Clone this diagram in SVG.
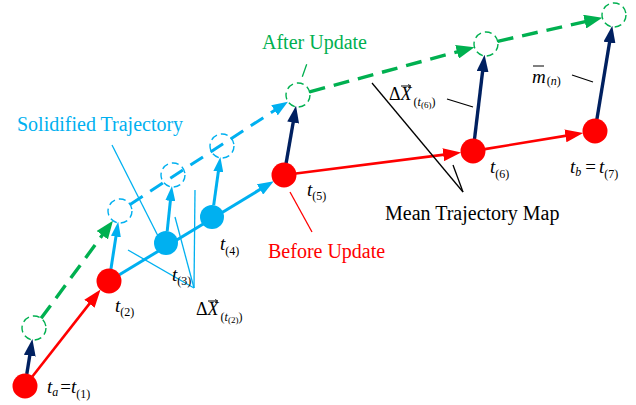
<svg xmlns="http://www.w3.org/2000/svg" width="636" height="405" viewBox="0 0 636 405">
<style>
text{font-family:"Liberation Serif","Times New Roman",serif}
.lab{font-size:20px}
.t{font-size:19px;font-style:italic}
.s{font-size:12px;font-style:normal}
.si{font-size:12px;font-style:italic}
.ss{font-size:9px;font-style:normal}
.up{font-style:normal}
.it{font-style:italic}
.red{stroke:#ff0000;stroke-width:2.6;fill:none}
.cy{stroke:#00b0f0;stroke-width:3;fill:none}
.nv{stroke:#002060;stroke-width:3.4;fill:none}
.gd{stroke:#00b050;stroke-width:3.4;fill:none;stroke-dasharray:16 9}
.cd{stroke:#00b0f0;stroke-width:3;fill:none;stroke-dasharray:15 9}
.thin{stroke-width:1.3;fill:none}
.rn{fill:#ff0000}
.cn{fill:#00b0f0}
.dg{fill:none;stroke:#00b050;stroke-width:1.4;stroke-dasharray:7 4}
.dc{fill:none;stroke:#00b0f0;stroke-width:1.4;stroke-dasharray:7 4}
</style>
<defs>
<marker id="mr" viewBox="0 0 18 13" refX="9" refY="6.5" markerWidth="18" markerHeight="13" markerUnits="userSpaceOnUse" orient="auto"><path d="M0,0L18,6.5L0,13z" fill="#ff0000"/></marker>
<marker id="mn" viewBox="0 0 17 12" refX="8" refY="6" markerWidth="17" markerHeight="12" markerUnits="userSpaceOnUse" orient="auto"><path d="M0,0L17,6L0,12z" fill="#002060"/></marker>
<marker id="mc" viewBox="0 0 15 10" refX="7" refY="5" markerWidth="15" markerHeight="10" markerUnits="userSpaceOnUse" orient="auto"><path d="M0,0L15,5L0,10z" fill="#00b0f0"/></marker>
<marker id="mcb" viewBox="0 0 16 12" refX="8" refY="6" markerWidth="16" markerHeight="12" markerUnits="userSpaceOnUse" orient="auto"><path d="M0,0L16,6L0,12z" fill="#00b0f0"/></marker>
<marker id="mg" viewBox="0 0 18 14" refX="9" refY="7" markerWidth="18" markerHeight="14" markerUnits="userSpaceOnUse" orient="auto"><path d="M0,0L18,7L0,14z" fill="#00b050"/></marker>
</defs>

<g id="connectors">
<line class="red" x1="32.4" y1="376.5" x2="95" y2="296.6" marker-end="url(#mr)"/>
<line class="nv" x1="26.8" y1="374.1" x2="31" y2="347.8" marker-end="url(#mn)"/>
<line class="gd" x1="41.1" y1="318.3" x2="107.6" y2="228" marker-end="url(#mg)"/>
<line class="cy" x1="110.9" y1="269.2" x2="117" y2="229.7" marker-end="url(#mc)"/>
<line class="cy" x1="119.3" y1="274.8" x2="266.9" y2="185.3" marker-end="url(#mcb)"/>
<line class="cy" x1="167.2" y1="231.1" x2="171.1" y2="193.9" marker-end="url(#mc)"/>
<line class="cy" x1="213.7" y1="205.1" x2="219.3" y2="164.8" marker-end="url(#mc)"/>
<line class="cd" x1="130.1" y1="204.4" x2="281.2" y2="106" marker-end="url(#mcb)"/>
<line class="nv" x1="286.1" y1="163.2" x2="294.5" y2="114.7" marker-end="url(#mn)"/>
<line class="gd" x1="309.6" y1="91.9" x2="465.7" y2="49.5" marker-end="url(#mg)"/>
<line class="gd" x1="497.7" y1="41.3" x2="593.5" y2="19.7" marker-end="url(#mg)"/>
<line class="nv" x1="474.5" y1="139.1" x2="483.5" y2="63.8" marker-end="url(#mn)"/>
<line class="nv" x1="596.9" y1="119.2" x2="610.8" y2="34.7" marker-end="url(#mn)"/>
<line class="red" x1="295.9" y1="173.5" x2="452.2" y2="153.6" marker-end="url(#mr)"/>
<line class="red" x1="484.8" y1="149.1" x2="574.3" y2="134.4" marker-end="url(#mr)"/>
</g>

<g id="leaders">
<line class="thin" stroke="#00b0f0" x1="112" y1="145" x2="158" y2="236"/>
<line class="thin" stroke="#00b0f0" x1="194" y1="288" x2="128" y2="250"/>
<line class="thin" stroke="#00b0f0" x1="194" y1="288" x2="175" y2="217"/>
<line class="thin" stroke="#00b0f0" x1="194" y1="288" x2="195" y2="190"/>
<line class="thin" stroke="#00b050" x1="306.7" y1="64.3" x2="302.3" y2="76.7"/>
<line class="thin" stroke="#ff0000" x1="290" y1="192" x2="312" y2="232"/>
<line class="thin" stroke="#000" x1="372" y1="83" x2="463" y2="192"/>
<line class="thin" stroke="#000" x1="453" y1="165" x2="463" y2="192"/>
<line class="thin" stroke="#000" x1="447" y1="99" x2="473" y2="107"/>
<line class="thin" stroke="#000" x1="572" y1="75" x2="593" y2="82"/>
</g>

<g id="n1"><circle class="rn" cx="25" cy="386" r="12.5"/></g>
<g id="n2"><circle class="rn" cx="109" cy="281" r="12.5"/></g>
<g id="c3"><circle class="cn" cx="166" cy="243" r="12"/></g>
<g id="c4"><circle class="cn" cx="212" cy="217" r="12"/></g>
<g id="n5"><circle class="rn" cx="284" cy="175" r="12.5"/></g>
<g id="n6"><circle class="rn" cx="473" cy="151" r="12.5"/></g>
<g id="n7"><circle class="rn" cx="595" cy="131" r="12.5"/></g>
<g id="d1"><circle class="dg" cx="34" cy="328" r="12"/></g>
<g id="d2"><circle class="dc" cx="120" cy="211" r="12"/></g>
<g id="d3"><circle class="dc" cx="173" cy="175" r="12"/></g>
<g id="d4"><circle class="dc" cx="222" cy="146" r="12"/></g>
<g id="d5"><circle class="dg" cx="298" cy="95" r="12"/></g>
<g id="d6"><circle class="dg" cx="486" cy="44" r="12"/></g>
<g id="d7"><circle class="dg" cx="614" cy="15" r="12"/></g>

<g id="labels">
<text class="lab" x="262" y="49" fill="#00b050">After Update</text>
<text class="lab" x="17" y="131" fill="#00b0f0">Solidified Trajectory</text>
<text class="lab" x="268" y="258" fill="#ff0000">Before Update</text>
<text class="lab" x="385" y="220" fill="#000">Mean Trajectory Map</text>

<text class="t" x="47" y="393">t<tspan class="si" dy="3">a</tspan><tspan class="up" dy="-3" dx="2">=</tspan>t<tspan class="s" dy="5">(1)</tspan></text>
<text class="t" x="115" y="312">t<tspan class="s" dy="4">(2)</tspan></text>
<text class="t" x="172" y="281">t<tspan class="s" dy="4">(3)</tspan></text>
<text class="t" x="220" y="250">t<tspan class="s" dy="5">(4)</tspan></text>
<text class="t" x="307" y="196">t<tspan class="s" dy="4">(5)</tspan></text>
<text class="t" x="490" y="173">t<tspan class="s" dy="5">(6)</tspan></text>
<text class="t" x="570" y="173">t<tspan class="si" dy="3">b</tspan><tspan class="up" dy="-3" dx="4">=</tspan><tspan dx="3">t</tspan><tspan class="s" dy="5">(7)</tspan></text>

<text x="196" y="315" font-size="18">Δ<tspan class="it">X</tspan><tspan class="s" dy="6" dx="2">(</tspan><tspan class="si">t</tspan><tspan class="ss" dy="2">(2)</tspan><tspan class="s" dy="-2">)</tspan></text>
<line x1="208" y1="301" x2="217" y2="301" stroke="#000" stroke-width="1"/>
<path d="M215,299.5L218,301L215,302.5" fill="none" stroke="#000" stroke-width="0.8"/>

<text x="389" y="100" font-size="18">Δ<tspan class="it">X</tspan><tspan class="s" dy="6" dx="2">(</tspan><tspan class="si">t</tspan><tspan class="ss" dy="2">(6)</tspan><tspan class="s" dy="-2">)</tspan></text>
<line x1="401" y1="86" x2="410" y2="86" stroke="#000" stroke-width="1"/>
<path d="M408,84.5L411,86L408,87.5" fill="none" stroke="#000" stroke-width="0.8"/>

<text x="532" y="83" font-size="19" class="it">m<tspan class="s" dy="2" dx="1">(</tspan><tspan class="si">n</tspan><tspan class="s">)</tspan></text>
<line x1="533" y1="66" x2="544" y2="66" stroke="#000" stroke-width="1"/>
</g>
</svg>
